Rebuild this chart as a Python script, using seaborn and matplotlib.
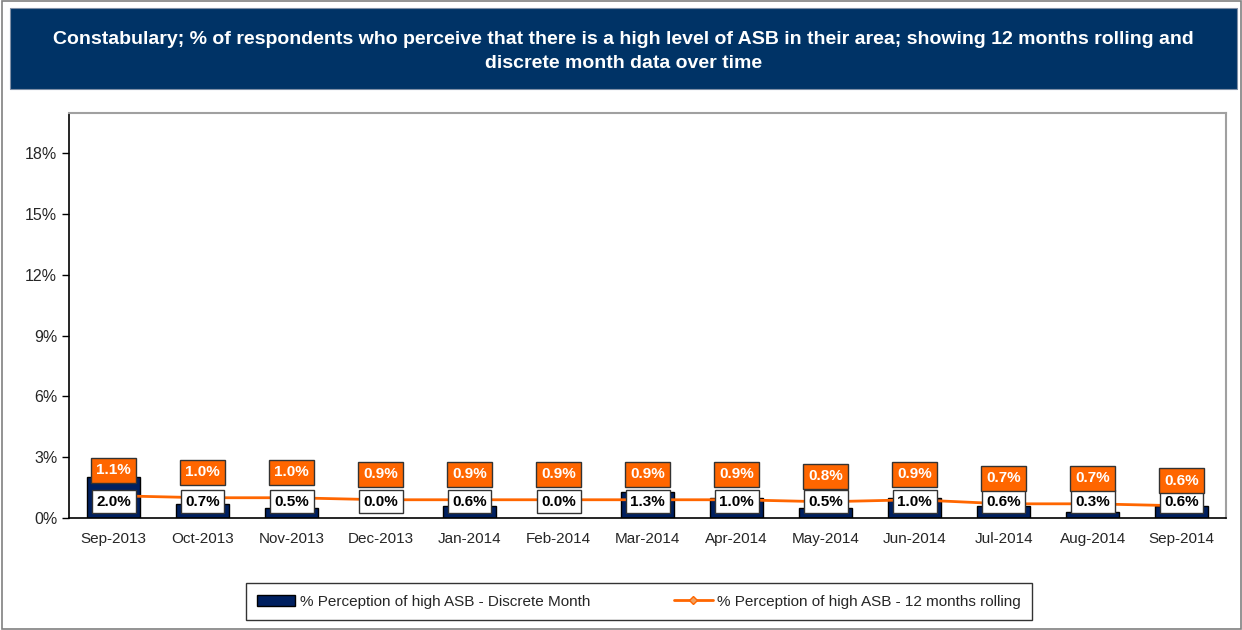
import matplotlib
matplotlib.use("Agg")
import matplotlib.pyplot as plt
import matplotlib.patches as mpatches
from matplotlib.lines import Line2D
import seaborn as sns
import pandas as pd

# Daten
months = ["Sep-2013", "Oct-2013", "Nov-2013", "Dec-2013", "Jan-2014", "Feb-2014", "Mar-2014",
          "Apr-2014", "May-2014", "Jun-2014", "Jul-2014", "Aug-2014", "Sep-2014"]
discrete = [2.0, 0.7, 0.5, 0.0, 0.6, 0.0, 1.3, 1.0, 0.5, 1.0, 0.6, 0.3, 0.6]
rolling = [1.1, 1.0, 1.0, 0.9, 0.9, 0.9, 0.9, 0.9, 0.8, 0.9, 0.7, 0.7, 0.6]
y_ticks = [0, 3, 6, 9, 12, 15, 18]

title = ("Constabulary; % of respondents who perceive that there is a high level of ASB in their area; "
         "showing 12 months rolling and\ndiscrete month data over time")
bar_name = "% Perception of high ASB - Discrete Month"
line_name = "% Perception of high ASB - 12 months rolling"

NAVY = "#002060"
ORANGE = "#ff6600"
BANNER = "#003366"


def main():
    sns.set_style("white")
    plt.rcParams["font.family"] = ["Liberation Sans", "DejaVu Sans"]

    df = pd.DataFrame({"month": months, "discrete": discrete, "rolling": rolling})

    fig = plt.figure(figsize=(12.42, 6.3), dpi=100)

    # Titelbanner
    fig.patches.append(mpatches.Rectangle((0.008, 0.859), 0.988, 0.128, transform=fig.transFigure,
                                          facecolor=BANNER, edgecolor="#7f8fa6", lw=0.8))
    fig.text(0.502, 0.918, title, ha="center", va="center", color="white",
             fontsize=14, fontweight="bold", linespacing=1.55)

    # Rahmen um die Grafik
    fig.patches.append(mpatches.Rectangle((0.002, 0.001), 0.997, 0.997, transform=fig.transFigure,
                                          facecolor="none", edgecolor="#808080", lw=1.2))

    ax = fig.add_axes([0.0556, 0.1778, 0.9316, 0.6429])

    sns.barplot(data=df, x="month", y="discrete", color=NAVY, saturation=1, width=0.6,
                edgecolor="black", linewidth=1, ax=ax)
    sns.pointplot(data=df, x="month", y="rolling", color=ORANGE, markers="D",
                  markersize=3, linewidth=2, ax=ax)

    ax.set_ylim(0, 20)
    ax.set_xlim(-0.5, 12.5)
    ax.set_yticks(y_ticks)
    ax.set_yticklabels([f"{t}%" for t in y_ticks], fontsize=11.5)
    ax.tick_params(axis="x", which="major", length=0, labelsize=11, pad=10)
    ax.set_xticks([i - 0.5 for i in range(len(months) + 1)], minor=True)
    ax.tick_params(axis="x", which="minor", length=5, width=1, color="black", direction="out")
    ax.tick_params(axis="y", length=5, width=1, color="black", direction="out", left=True)
    ax.set_xlabel("")
    ax.set_ylabel("")

    for side in ["left", "bottom"]:
        ax.spines[side].set_color("black")
        ax.spines[side].set_linewidth(1.2)
    for side in ["top", "right"]:
        ax.spines[side].set_color("#a0a0a0")
        ax.spines[side].set_linewidth(1.5)

    # Wertebeschriftungen
    for i in range(len(months)):
        ax.text(i, 0.8, f"{discrete[i]:.1f}%", ha="center", va="center", fontsize=11,
                fontweight="bold", color="black",
                bbox=dict(boxstyle="square,pad=0.3", facecolor="white", edgecolor="#333333", lw=1))
        ax.text(i, rolling[i] + 1.25, f"{rolling[i]:.1f}%", ha="center", va="center", fontsize=11,
                fontweight="bold", color="white",
                bbox=dict(boxstyle="square,pad=0.35", facecolor=ORANGE, edgecolor="#333333", lw=1))

    handles = [mpatches.Patch(facecolor=NAVY, edgecolor="black", label=bar_name),
               Line2D([0], [0], color=ORANGE, lw=2, marker="D", markersize=4,
                      markerfacecolor="#f0a060", label=line_name)]
    leg = fig.legend(handles=handles, loc="center", bbox_to_anchor=(0.5145, 0.045), ncol=2,
                     frameon=True, fancybox=False, fontsize=11, columnspacing=5.5,
                     handlelength=2.5, handletextpad=0.3, borderpad=0.75, borderaxespad=0)
    leg.get_frame().set_edgecolor("black")
    leg.get_frame().set_linewidth(1)

    fig.savefig("out.png", dpi=100)
    plt.close(fig)


if __name__ == "__main__":
    main()
